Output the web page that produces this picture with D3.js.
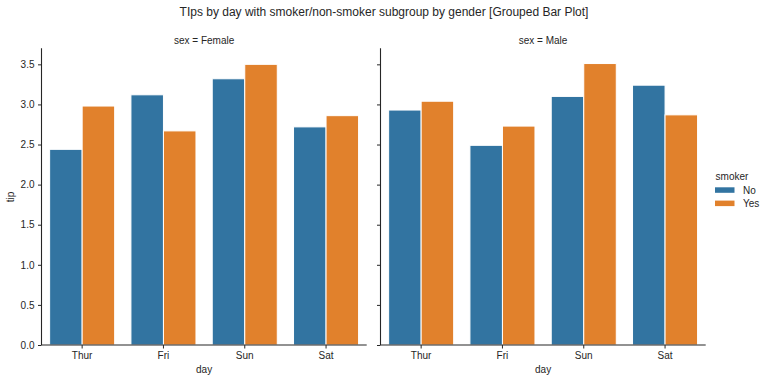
<!DOCTYPE html>
<html>
<head>
<meta charset="utf-8">
<script src="https://cdn.jsdelivr.net/npm/d3@7"></script>
<style>
  html, body { margin: 0; padding: 0; background: #fff; }
  svg { display: block; font-family: "Liberation Sans", Arial, sans-serif; }
</style>
</head>
<body>
<svg id="chart" width="768" height="381"></svg>
<script>
const days = ["Thur", "Fri", "Sun", "Sat"];
const smokers = ["No", "Yes"];
const panels = ["Female", "Male"];
const femaleNo  = [2.44, 3.12, 3.32, 2.72];
const femaleYes = [2.98, 2.67, 3.50, 2.86];
const maleNo    = [2.93, 2.49, 3.10, 3.24];
const maleYes   = [3.04, 2.73, 3.51, 2.87];
const yTicks = [0, 0.5, 1.0, 1.5, 2.0, 2.5, 3.0, 3.5];
const colors = ["#3274a1", "#e1812c"];

const data = {
  Female: [femaleNo, femaleYes],
  Male: [maleNo, maleYes]
};

const svg = d3.select("#chart");
const textColor = "#262626";
const plotTop = 48.3, plotBottom = 345;
const panelX = [[41.5, 366.7], [380.5, 705.7]];

const y = d3.scaleLinear().domain([0, 3.7]).range([plotBottom, plotTop]);

svg.append("text")
  .attr("x", 384).attr("y", 16)
  .attr("text-anchor", "middle")
  .attr("font-size", 12).attr("fill", textColor)
  .text("TIps by day with smoker/non-smoker subgroup by gender [Grouped Bar Plot]");

panels.forEach((p, pi) => {
  const [x0, x1] = panelX[pi];
  const x = d3.scaleBand().domain(days).range([x0, x1]).paddingInner(0).paddingOuter(0);
  const bw = x.bandwidth();
  const xh = d3.scaleBand().domain(smokers).range([0.1 * bw, 0.9 * bw]);
  const g = svg.append("g");

  smokers.forEach((s, si) => {
    g.selectAll(null)
      .data(days.map((d, i) => ({ day: d, v: data[p][si][i] })))
      .enter().append("rect")
      .attr("x", d => x(d.day) + xh(s))
      .attr("y", d => y(d.v))
      .attr("width", xh.bandwidth())
      .attr("height", d => y(0) - y(d.v))
      .attr("fill", colors[si])
      .attr("stroke", "#fff")
      .attr("stroke-width", 1);
  });

  const yAxis = d3.axisLeft(y).tickValues(yTicks).tickSize(3.5).tickPadding(3.5)
    .tickFormat(pi === 0 ? d3.format(".1f") : () => "");
  const ya = g.append("g").attr("transform", `translate(${x0},0)`).call(yAxis);
  ya.select(".domain").attr("d", `M0,${plotTop}V${plotBottom}`);

  const xAxis = d3.axisBottom(x).tickSize(3.5).tickPadding(3.5);
  const xa = g.append("g").attr("transform", `translate(0,${plotBottom})`).call(xAxis);
  xa.select(".domain").attr("d", `M${x0},0H${x1}`);

  [ya, xa].forEach(a => {
    a.selectAll(".domain").attr("stroke", textColor).attr("stroke-width", 1.1);
    a.selectAll(".tick line").attr("stroke", textColor).attr("stroke-width", 1);
    a.selectAll(".tick text").attr("fill", textColor).attr("font-size", 10)
      .attr("font-family", "Liberation Sans, Arial, sans-serif");
  });

  g.append("text")
    .attr("x", (x0 + x1) / 2).attr("y", 43.5)
    .attr("text-anchor", "middle").attr("font-size", 10).attr("fill", textColor)
    .text("sex = " + p);

  g.append("text")
    .attr("x", (x0 + x1) / 2).attr("y", 373)
    .attr("text-anchor", "middle").attr("font-size", 10).attr("fill", textColor)
    .text("day");
});

svg.append("text")
  .attr("transform", "translate(14,197) rotate(-90)")
  .attr("text-anchor", "middle").attr("font-size", 10).attr("fill", textColor)
  .text("tip");

const leg = svg.append("g");
leg.append("text").attr("x", 732).attr("y", 179.5)
  .attr("text-anchor", "middle").attr("font-size", 10).attr("fill", textColor)
  .text("smoker");
smokers.forEach((s, i) => {
  leg.append("rect")
    .attr("x", 715).attr("y", 187.3 + i * 13.3)
    .attr("width", 19.5).attr("height", 5.5)
    .attr("fill", colors[i]);
  leg.append("text")
    .attr("x", 743).attr("y", 193.7 + i * 13.3)
    .attr("font-size", 10).attr("fill", textColor)
    .text(s);
});
</script>
</body>
</html>
